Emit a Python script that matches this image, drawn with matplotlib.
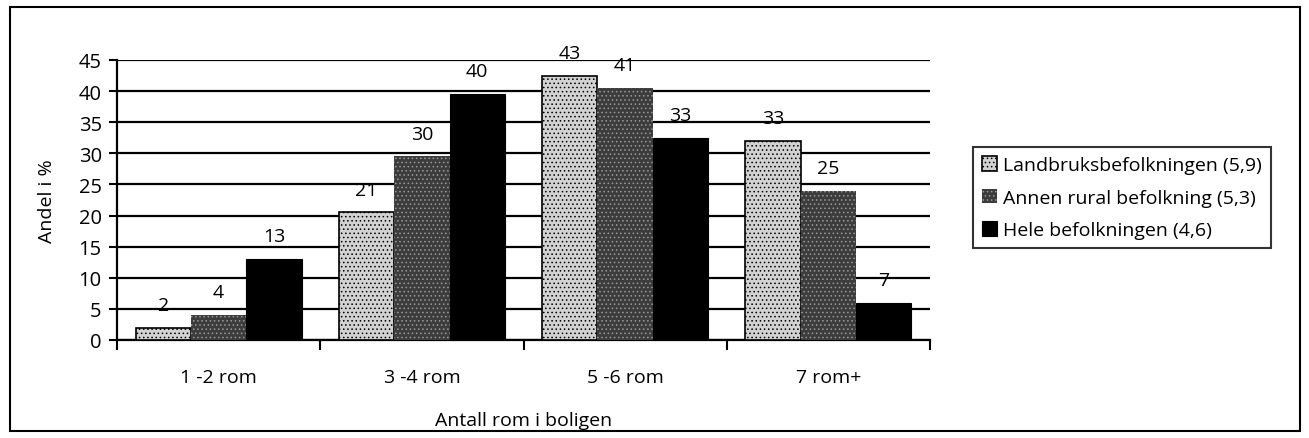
import matplotlib
matplotlib.use("Agg")
import matplotlib.pyplot as plt
from matplotlib.patches import Rectangle
import numpy as np

categories = ["1 -2 rom", "3 -4 rom", "5 -6 rom", "7 rom+"]
series_names = ["Landbruksbefolkningen (5,9)", "Annen rural befolkning (5,3)", "Hele befolkningen (4,6)"]
landbruk = [2, 20.5, 42.5, 32]
annen = [4, 29.5, 40.5, 24]
hele = [13, 39.5, 32.5, 6]
landbruk_labels = ["2", "21", "43", "33"]
annen_labels = ["4", "30", "41", "25"]
hele_labels = ["13", "40", "33", "7"]
yticks = [0, 5, 10, 15, 20, 25, 30, 35, 40, 45]

plt.rcParams['font.family'] = ['Open Sans', 'DejaVu Sans']
plt.rcParams['hatch.linewidth'] = 0.6

W, H = 1309, 439
fig = plt.figure(figsize=(W / 100, H / 100), dpi=100)
fig.patches.append(Rectangle((10 / W, 1 - 432 / H), (1300 - 10) / W, (432 - 8) / H,
                             transform=fig.transFigure, fill=False, edgecolor='black', lw=1.5))

ax = fig.add_axes([117 / W, 1 - 341 / H, (930 - 117) / W, (341 - 61) / H])
x = np.arange(len(categories))
bw = 0.272
styles = [
    dict(facecolor='#d2d2d2', edgecolor='black', hatch='....', linewidth=1.2),
    dict(facecolor='#3c3c3c', edgecolor='#9a9a9a', hatch='....', linewidth=0),
    dict(facecolor='black', edgecolor='black', linewidth=0.8),
]
data = [landbruk, annen, hele]
labels = [landbruk_labels, annen_labels, hele_labels]
bars_all = []
for i, (vals, st, name) in enumerate(zip(data, styles, series_names)):
    pos = x + (i - 1) * bw
    b = ax.bar(pos, vals, bw, label=name, zorder=3, **st)
    bars_all.append(b)
    for p, v, lab in zip(pos, vals, labels[i]):
        ax.annotate(lab, (p, v), xytext=(0, 10), textcoords='offset points',
                    ha='center', va='bottom', fontsize=14, zorder=4)

ax.set_xlim(-0.5, len(categories) - 0.5)
ax.set_ylim(0, 45)
ax.set_yticks(yticks)
ax.set_yticklabels([str(t) for t in yticks], fontsize=14.5)
ax.yaxis.grid(True, color='black', linewidth=1.6, zorder=0)
ax.set_axisbelow(True)
ax.set_xticks(np.arange(len(categories) + 1) - 0.5, minor=False)
ax.set_xticklabels([""] * (len(categories) + 1))
ax.set_xticks(x, minor=True)
ax.set_xticklabels(categories, minor=True, fontsize=14)
ax.tick_params(axis='x', which='minor', length=0, pad=20)
ax.tick_params(axis='x', which='major', length=7, width=1.5, direction='out')
ax.tick_params(axis='y', length=6, width=1.5, direction='out', pad=5)
for s in ['top', 'right']:
    ax.spines[s].set_visible(False)
ax.spines['left'].set_linewidth(1.6)
ax.spines['bottom'].set_linewidth(1.6)
ax.set_ylabel("Andel i %", fontsize=14, labelpad=16)
ax.set_xlabel("Antall rom i boligen", fontsize=14, labelpad=18)

leg = fig.legend(handles=bars_all, labels=series_names, loc='upper left',
                 bbox_to_anchor=(973 / W, 1 - 148 / H), fontsize=14,
                 frameon=True, fancybox=False, edgecolor='black',
                 handlelength=0.8, handleheight=0.8, handletextpad=0.3,
                 borderpad=0.45, labelspacing=0.75, borderaxespad=0)
leg.get_frame().set_linewidth(1.5)

fig.savefig("out.png", dpi=100)
